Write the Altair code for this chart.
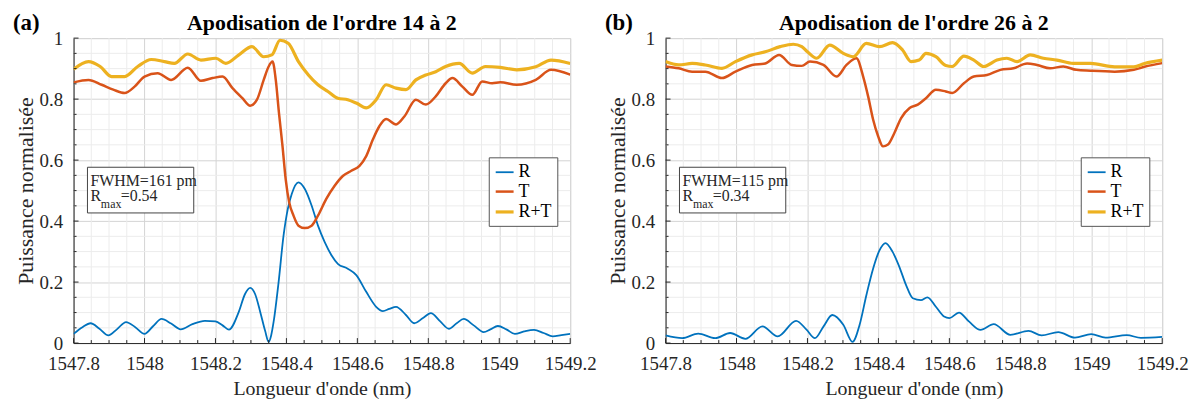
import altair as alt
import pandas as pd
import numpy as np

FONT = "Liberation Serif"
SERIES = ["R", "T", "R+T"]
COLORS = ["#0072BD", "#D95319", "#EDB120"]

# ---------------- Panel (a) : apodisation 14 -> 2 ----------------
a_R_lam = [1547.800, 1547.825, 1547.848, 1547.873, 1547.898, 1547.922, 1547.948, 1547.974, 1548.000, 1548.024,
           1548.048, 1548.075, 1548.102, 1548.135, 1548.170, 1548.200, 1548.220, 1548.238, 1548.266, 1548.283,
           1548.298, 1548.312, 1548.326, 1548.340, 1548.350, 1548.357, 1548.364, 1548.378, 1548.392, 1548.404,
           1548.415, 1548.434, 1548.452, 1548.471, 1548.489, 1548.508, 1548.527, 1548.545, 1548.573, 1548.597,
           1548.625, 1548.653, 1548.672, 1548.690, 1548.709, 1548.737, 1548.760, 1548.785, 1548.807, 1548.833,
           1548.858, 1548.880, 1548.900, 1548.928, 1548.956, 1548.975, 1548.996, 1549.020, 1549.044, 1549.070,
           1549.098, 1549.125, 1549.151, 1549.175, 1549.200]
a_R_val = [0.030, 0.052, 0.065, 0.047, 0.025, 0.045, 0.069, 0.052, 0.030, 0.055,
           0.079, 0.064, 0.045, 0.062, 0.073, 0.071, 0.058, 0.044, 0.103, 0.160,
           0.181, 0.160, 0.103, 0.040, 0.004, 0.025, 0.070, 0.200, 0.353, 0.440,
           0.489, 0.527, 0.505, 0.451, 0.385, 0.331, 0.288, 0.260, 0.244, 0.223,
           0.168, 0.119, 0.105, 0.112, 0.119, 0.092, 0.065, 0.082, 0.098, 0.072,
           0.047, 0.065, 0.079, 0.058, 0.036, 0.045, 0.056, 0.045, 0.030, 0.038,
           0.043, 0.033, 0.022, 0.026, 0.030]

a_T_lam = [1547.800, 1547.842, 1547.879, 1547.912, 1547.944, 1547.972, 1548.000, 1548.037, 1548.075, 1548.122,
           1548.159, 1548.192, 1548.220, 1548.248, 1548.276, 1548.298, 1548.317, 1548.336, 1548.350, 1548.361,
           1548.370, 1548.379, 1548.389, 1548.398, 1548.408, 1548.420, 1548.434, 1548.452, 1548.471, 1548.489,
           1548.512, 1548.536, 1548.559, 1548.583, 1548.606, 1548.625, 1548.644, 1548.662, 1548.681, 1548.709,
           1548.733, 1548.765, 1548.793, 1548.821, 1548.849, 1548.868, 1548.896, 1548.924, 1548.952, 1548.980,
           1549.003, 1549.049, 1549.103, 1549.146, 1549.200]
a_T_val = [0.855, 0.863, 0.847, 0.831, 0.820, 0.841, 0.874, 0.885, 0.863, 0.903,
           0.860, 0.869, 0.874, 0.836, 0.803, 0.778, 0.798, 0.863, 0.907, 0.923,
           0.863, 0.755, 0.646, 0.537, 0.461, 0.418, 0.385, 0.377, 0.385, 0.418,
           0.472, 0.516, 0.548, 0.565, 0.581, 0.613, 0.668, 0.711, 0.735, 0.717,
           0.744, 0.798, 0.782, 0.809, 0.852, 0.869, 0.841, 0.814, 0.858, 0.852,
           0.855, 0.847, 0.863, 0.896, 0.880]

a_RT_lam = [1547.800, 1547.842, 1547.875, 1547.907, 1547.944, 1547.981, 1548.019, 1548.056, 1548.084, 1548.122,
            1548.159, 1548.201, 1548.229, 1548.266, 1548.303, 1548.336, 1548.359, 1548.382, 1548.405, 1548.434,
            1548.462, 1548.489, 1548.517, 1548.545, 1548.573, 1548.597, 1548.625, 1548.653, 1548.681, 1548.709,
            1548.737, 1548.765, 1548.793, 1548.821, 1548.849, 1548.887, 1548.924, 1548.961, 1549.003, 1549.049,
            1549.103, 1549.146, 1549.200]
a_RT_val = [0.898, 0.923, 0.907, 0.874, 0.874, 0.907, 0.930, 0.923, 0.917, 0.948,
            0.928, 0.934, 0.917, 0.945, 0.972, 0.939, 0.945, 0.993, 0.983, 0.923,
            0.879, 0.847, 0.825, 0.803, 0.798, 0.787, 0.771, 0.798, 0.847, 0.836,
            0.831, 0.863, 0.879, 0.890, 0.907, 0.917, 0.885, 0.907, 0.904, 0.896,
            0.906, 0.928, 0.917]

# ---------------- Panel (b) : apodisation 26 -> 2 ----------------
b_R_lam = [1547.800, 1547.847, 1547.892, 1547.940, 1547.982, 1548.025, 1548.073, 1548.116, 1548.168, 1548.198,
           1548.221, 1548.245, 1548.270, 1548.301, 1548.327, 1548.347, 1548.366, 1548.385, 1548.403, 1548.420,
           1548.440, 1548.459, 1548.478, 1548.497, 1548.520, 1548.538, 1548.562, 1548.585, 1548.600, 1548.627,
           1548.655, 1548.688, 1548.725, 1548.772, 1548.823, 1548.860, 1548.907, 1548.954, 1549.000, 1549.040,
           1549.100, 1549.140, 1549.200]
b_R_val = [0.025, 0.016, 0.031, 0.016, 0.033, 0.014, 0.055, 0.022, 0.073, 0.043,
           0.016, 0.054, 0.092, 0.060, 0.004, 0.060, 0.157, 0.244, 0.304, 0.328,
           0.299, 0.250, 0.190, 0.147, 0.141, 0.150, 0.119, 0.087, 0.082, 0.100,
           0.071, 0.043, 0.062, 0.027, 0.040, 0.025, 0.036, 0.018, 0.029, 0.018,
           0.026, 0.017, 0.020]

b_T_lam = [1547.800, 1547.837, 1547.875, 1547.912, 1547.959, 1547.997, 1548.044, 1548.081, 1548.120, 1548.156,
           1548.184, 1548.207, 1548.245, 1548.282, 1548.310, 1548.338, 1548.357, 1548.371, 1548.385, 1548.399,
           1548.413, 1548.427, 1548.445, 1548.464, 1548.488, 1548.511, 1548.534, 1548.562, 1548.590, 1548.608,
           1548.641, 1548.669, 1548.706, 1548.744, 1548.781, 1548.819, 1548.847, 1548.884, 1548.921, 1548.958,
           1548.998, 1549.066, 1549.120, 1549.150, 1549.200]
b_T_val = [0.907, 0.901, 0.890, 0.890, 0.869, 0.890, 0.912, 0.917, 0.945, 0.912,
           0.909, 0.923, 0.912, 0.874, 0.912, 0.934, 0.874, 0.809, 0.733, 0.679,
           0.645, 0.651, 0.689, 0.738, 0.771, 0.782, 0.803, 0.831, 0.825, 0.820,
           0.852, 0.874, 0.879, 0.896, 0.901, 0.917, 0.912, 0.901, 0.907, 0.896,
           0.893, 0.890, 0.896, 0.906, 0.918]

b_RT_lam = [1547.800, 1547.837, 1547.875, 1547.912, 1547.959, 1547.997, 1548.044, 1548.081, 1548.123, 1548.160,
            1548.184, 1548.200, 1548.226, 1548.263, 1548.301, 1548.329, 1548.366, 1548.403, 1548.440, 1548.468,
            1548.492, 1548.515, 1548.534, 1548.562, 1548.590, 1548.608, 1548.641, 1548.669, 1548.697, 1548.734,
            1548.762, 1548.791, 1548.828, 1548.865, 1548.903, 1548.949, 1548.998, 1549.066, 1549.120, 1549.150,
            1549.200]
b_RT_val = [0.923, 0.912, 0.917, 0.912, 0.901, 0.923, 0.945, 0.955, 0.972, 0.980,
            0.972, 0.955, 0.934, 0.977, 0.950, 0.939, 0.983, 0.972, 0.985, 0.961,
            0.923, 0.928, 0.950, 0.939, 0.910, 0.907, 0.941, 0.928, 0.907, 0.928,
            0.934, 0.923, 0.945, 0.934, 0.928, 0.917, 0.917, 0.906, 0.906, 0.917,
            0.928]

# axis ticks
X_MAJOR = [1547.8, 1548.0, 1548.2, 1548.4, 1548.6, 1548.8, 1549.0, 1549.2]
Y_MAJOR = [0, 0.2, 0.4, 0.6, 0.8, 1.0]
X_MINOR = [round(v, 2) for v in np.arange(1547.8, 1549.2001, 0.05) if min(abs(v - m) for m in X_MAJOR) > 1e-6]
Y_MINOR = [round(v, 2) for v in np.arange(0, 1.0001, 0.05) if min(abs(v - m) for m in Y_MAJOR) > 1e-6]

W, H = 500, 307

XAX = alt.Axis(values=X_MAJOR, format=".1~f", title="Longueur d'onde (nm)", grid=True,
               gridColor="#d4d4d4", tickSize=0, labelPadding=12, labelFontSize=19, labelFlush=False,
               labelOverlap=False, titleFontSize=20, titlePadding=5, domainColor="#262626",
               labelColor="#262626", titleColor="#262626", titleFontWeight="normal",
               labelFont=FONT, titleFont=FONT)
YAX = alt.Axis(values=Y_MAJOR, format=".1~f", title="Puissance normalisée", grid=True,
               gridColor="#d4d4d4", tickSize=0, labelPadding=11, labelFontSize=19, labelFlush=False,
               labelOverlap=False, titleFontSize=22, titlePadding=2, domainColor="#262626",
               labelColor="#262626", titleColor="#262626", titleFontWeight="normal",
               labelFont=FONT, titleFont=FONT)


def long_df(parts):
    rows = []
    for name, lam, val in parts:
        for l, v in zip(lam, val):
            rows.append({"lam": l, "v": v, "s": name})
    return pd.DataFrame(rows)


def txt(s, x, y, size, weight="normal", align="left", color="#262626"):
    return alt.Chart(pd.DataFrame({"t": [s]})).mark_text(
        font=FONT, fontSize=size, fontWeight=weight, align=align, baseline="alphabetic",
        color=color).encode(text="t:N", x=alt.value(x), y=alt.value(y))


def panel(df, letter, title, fwhm, rmax):
    xs = alt.Scale(domain=[1547.8, 1549.2], nice=False, zero=False)
    ys = alt.Scale(domain=[0, 1], nice=False)

    def X(f):
        return alt.X(f, scale=xs, axis=XAX)

    def Y(f):
        return alt.Y(f, scale=ys, axis=YAX)

    gx = alt.Chart(pd.DataFrame({"p": X_MINOR})).mark_rule(color="#ececec", strokeWidth=1).encode(
        x=X("p:Q"))
    gy = alt.Chart(pd.DataFrame({"p": Y_MINOR})).mark_rule(color="#ececec", strokeWidth=1).encode(
        y=Y("p:Q"))

    lines = alt.Chart(df).transform_calculate(w="datum.s").mark_line(interpolate="monotone", clip=True).encode(
        x=X("lam:Q"),
        y=Y("v:Q"),
        color=alt.Color("s:N", scale=alt.Scale(domain=SERIES, range=COLORS), legend=alt.Legend(
            title=None, orient="none", legendX=418, legendY=120, fillColor="white",
            strokeColor="#555555", padding=5, symbolType="stroke", symbolSize=324,
            symbolStrokeWidth=2, labelFontSize=18, labelFont=FONT, labelColor="black",
            rowPadding=0, labelOffset=3)),
        strokeWidth=alt.StrokeWidth("w:N", scale=alt.Scale(domain=SERIES, range=[1.8, 3.2, 3.2]), legend=None),
        order=alt.Order("lam:Q"),
    )

    tx_maj = alt.Chart(pd.DataFrame({"p": X_MAJOR})).mark_rule(color="#262626").encode(
        x=X("p:Q"), y=alt.value(H - 5), y2=alt.value(H))
    tx_min = alt.Chart(pd.DataFrame({"p": X_MINOR})).mark_rule(color="#262626").encode(
        x=X("p:Q"), y=alt.value(H - 3), y2=alt.value(H))
    ty_maj = alt.Chart(pd.DataFrame({"p": Y_MAJOR})).mark_rule(color="#262626").encode(
        y=Y("p:Q"), x=alt.value(0), x2=alt.value(5))
    ty_min = alt.Chart(pd.DataFrame({"p": Y_MINOR})).mark_rule(color="#262626").encode(
        y=Y("p:Q"), x=alt.value(0), x2=alt.value(3))

    box = alt.Chart(pd.DataFrame({"t": [0]})).mark_rect(fill="white", stroke="#444444", strokeWidth=1).encode(
        x=alt.value(14), x2=alt.value(121), y=alt.value(130), y2=alt.value(176))
    t1 = txt(fwhm, 17, 149, 16)
    t2 = txt("R", 17, 164, 16)
    t3 = txt("max", 27.5, 171, 12)
    t4 = txt(rmax, 47.5, 164, 16)
    lab = txt(letter, -61, -8, 23, weight="bold", color="black")
    ttl = txt(title, W / 2, -8, 22, weight="bold", align="center", color="black")

    return alt.layer(gx, gy, lines, box, t1, t2, t3, t4, tx_maj, tx_min, ty_maj, ty_min, lab, ttl).properties(
        width=W, height=H)


dfa = long_df([("R", a_R_lam, a_R_val), ("T", a_T_lam, a_T_val), ("R+T", a_RT_lam, a_RT_val)])
dfb = long_df([("R", b_R_lam, b_R_val), ("T", b_T_lam, b_T_val), ("R+T", b_RT_lam, b_RT_val)])

pa = panel(dfa, "(a)", "Apodisation de l'ordre 14 à 2", "FWHM=161 pm", "=0.54")
pb = panel(dfb, "(b)", "Apodisation de l'ordre 26 à 2", "FWHM=115 pm", "=0.34")

chart = alt.hconcat(pa, pb, spacing=96, bounds="flush").resolve_scale(
    color="independent", strokeWidth="independent").properties(
    padding={"left": 4, "top": 2, "right": 5, "bottom": 0}).configure_view(stroke=None).configure(
    font=FONT, background="white")

chart.save("out.html", embed_options={"renderer": "svg", "actions": False})
